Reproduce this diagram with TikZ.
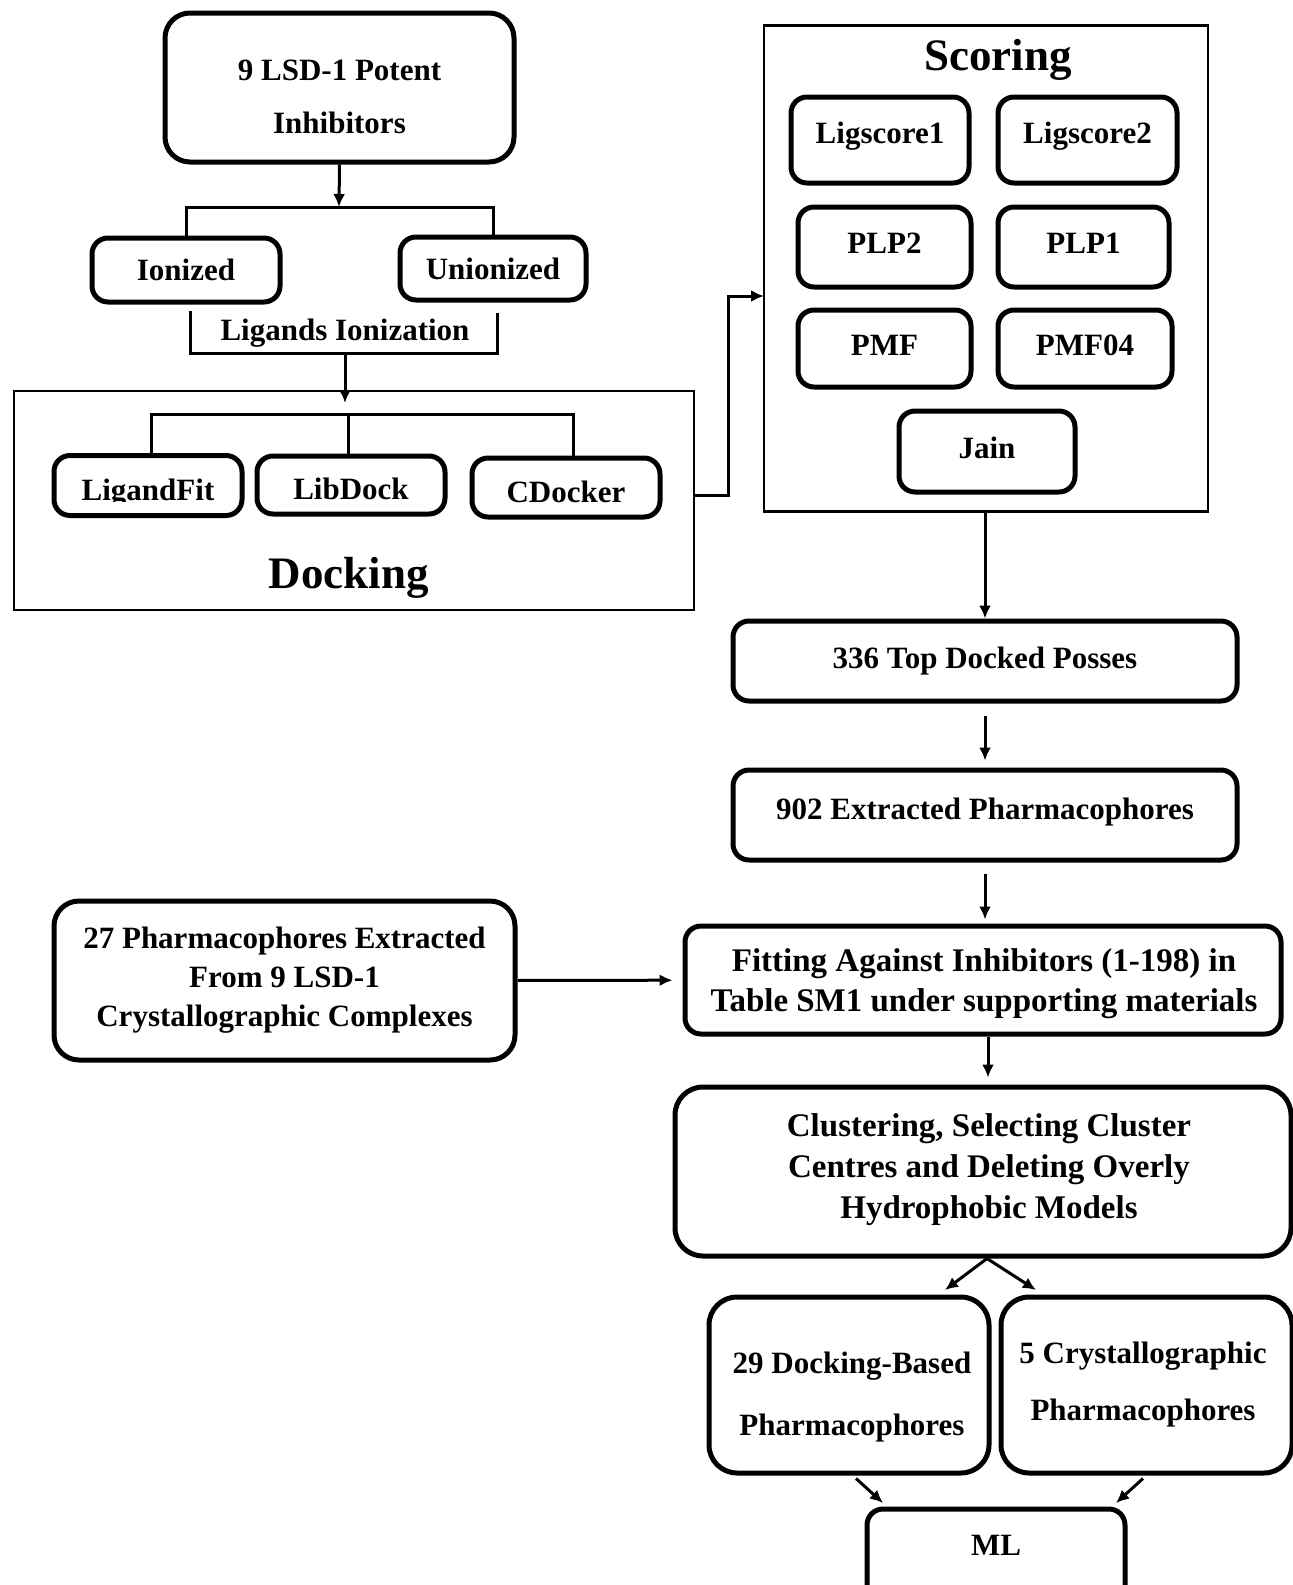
\documentclass[tikz,border=0pt]{standalone}
\usepackage{fontspec}
\setmainfont{Liberation Serif}
\usetikzlibrary{arrows.meta}

\tikzset{
  rbox/.style={draw, line width=5pt, rounded corners=16pt, inner sep=0pt,
    font=\fontsize{31}{37}\selectfont\bfseries, align=center},
  frame/.style={draw, line width=2.8pt, inner sep=0pt},
  lbl/.style={font=\fontsize{31}{37}\selectfont\bfseries, align=center, inner sep=0pt},
  biglbl/.style={lbl, font=\fontsize{33}{40}\selectfont\bfseries},
  ttl/.style={font=\fontsize{45}{54}\selectfont\bfseries, inner sep=0pt},
  conn/.style={line width=3pt},
  arr/.style={conn, ->, >={Latex[length=13pt,width=12pt]}},
}

\begin{document}
\begin{tikzpicture}[x=1pt,y=-1pt]
\useasboundingbox (0,0) rectangle (1293,1585);

% ligands and ionization
\node[rbox, rounded corners=25pt, minimum width=349pt, minimum height=149pt] (inh) at (339.5,87.5) {};
\node[lbl] (inhT) at (339.5,96.5) {9 LSD-1 Potent\\[16pt]Inhibitors};
\node[rbox, minimum width=188pt, minimum height=64pt] (ion) at (186,270) {Ionized};
\node[rbox, minimum width=186pt, minimum height=63pt] (union) at (493,268.5) {Unionized};
\coordinate (ionSplit) at (339,207);
\draw[arr] (inh.south) -- (ionSplit);
\draw[conn] (ion.north) |- (ionSplit) -| (union.north);
\coordinate (ligM) at (345,353);
\draw[conn] ([xshift=4pt,yshift=-6pt]ion.south) |- (ligM) -| ([xshift=4pt,yshift=-10pt]union.south);
\node[lbl] (ligT) at (345,333) {Ligands Ionization};

% docking
\node[frame, minimum width=680pt, minimum height=219pt] (dock) at (354,500.5) {};
\coordinate (dockIn) at (345,403);
\draw[arr] (ligM) -- (dockIn);
\node[rbox, minimum width=188pt, minimum height=60pt] (lfit) at (148,485.5) {};
\node[rbox, minimum width=188pt, minimum height=58pt] (ldock) at (351,485) {};
\node[rbox, minimum width=188pt, minimum height=59pt] (cdock) at (566,487.5) {};
\begin{scope}
  \clip (60,465) rectangle (236,501);
  \node[lbl] (lfitT) at (148,493) {LigandFit};
\end{scope}
\node[lbl] (ldockT) at (351,489) {LibDock};
\node[lbl] (cdockT) at (566,491.5) {CDocker};
\coordinate (dockSplit) at (348,414);
\draw[conn] ([xshift=3pt]lfit.north) |- (dockSplit) -| ([xshift=7pt]cdock.north);
\draw[conn] ([xshift=-3pt]ldock.north) -- (dockSplit);
\node[ttl] (dockT) at (349,578) {Docking};

% scoring
\node[frame, minimum width=444pt, minimum height=486pt] (score) at (986,268.5) {};
\node[ttl] (scoreT) at (998,60) {Scoring};
\coordinate (scIn) at (764,296);
\draw[arr] ([yshift=5pt]dock.east) -- ++(33,0) |- (scIn);
\node[rbox, minimum width=178pt, minimum height=86pt] (lig1) at (880,140) {};
\node[lbl] (lig1T) at (880,136) {Ligscore1};
\node[rbox, minimum width=179pt, minimum height=86pt] (lig2) at (1087.5,140) {};
\node[lbl] (lig2T) at (1087.5,136) {Ligscore2};
\node[rbox, minimum width=173pt, minimum height=80pt] (plp2) at (884.5,247) {};
\node[lbl] (plp2T) at (884.5,243) {PLP2};
\node[rbox, minimum width=171pt, minimum height=80pt] (plp1) at (1083.5,247) {};
\node[lbl] (plp1T) at (1083.5,243) {PLP1};
\node[rbox, minimum width=173pt, minimum height=77pt] (pmf) at (884.5,348.5) {};
\node[lbl] (pmfT) at (884.5,345.5) {PMF};
\node[rbox, minimum width=174pt, minimum height=77pt] (pmf4) at (1085,348.5) {};
\node[lbl] (pmf4T) at (1085,345.5) {PMF04};
\node[rbox, minimum width=176pt, minimum height=81pt] (jain) at (987,451.5) {};
\node[lbl] (jainT) at (987,447.5) {Jain};

% pharmacophore generation
\node[rbox, minimum width=504pt, minimum height=80pt] (top336) at (985,661) {336 Top Docked Posses};
\draw[arr] (score.south -| top336.north) -- (top336.north);
\node[rbox, minimum width=504pt, minimum height=90pt] (ph902) at (985,815) {};
\node[lbl] (ph902T) at (985,812) {902 Extracted Pharmacophores};
\draw[arr, shorten <=12pt, shorten >=7pt] (top336) -- (ph902);
\node[rbox, minimum width=596pt, minimum height=108pt] (fit) at (983,980) {};
\node[biglbl] (fitT) at (984,984) {Fitting Against Inhibitors (1-198) in\\Table SM1 under supporting materials};
\draw[arr, shorten <=11pt, shorten >=4pt] (ph902.south) -- (ph902.south |- fit.north);
\node[rbox, rounded corners=25pt, minimum width=461pt, minimum height=159pt] (cry27) at (284.5,980.5) {27 Pharmacophores Extracted\\[2pt]From 9 LSD-1\\[2pt]Crystallographic Complexes};
\draw[arr, shorten >=10pt] (cry27) -- (fit);
\node[rbox, rounded corners=28pt, minimum width=616pt, minimum height=169pt] (clus) at (983,1171.5) {};
\node[biglbl] (clusT) at (989,1170) {Clustering, Selecting Cluster\\[1pt]Centres and Deleting Overly\\[1pt]Hydrophobic Models};
\draw[arr, shorten >=7pt] ([xshift=5pt]fit.south) -- ([xshift=5pt]fit.south |- clus.north);

% selected models
\node[rbox, rounded corners=28pt, minimum width=280pt, minimum height=176pt] (dph29) at (849,1385) {};
\node[lbl] (dph29T) at (852,1397) {29 Docking-Based\\[25pt]Pharmacophores};
\node[rbox, rounded corners=28pt, minimum width=291pt, minimum height=176pt] (cph5) at (1146.5,1385) {};
\node[lbl] (cph5T) at (1143,1385) {5 Crystallographic\\[20pt]Pharmacophores};
\coordinate (toDph) at (945,1290);
\coordinate (toCph) at (1036,1290);
\draw[arr] ([xshift=4pt]clus.south) -- (toDph);
\draw[arr] ([xshift=4pt]clus.south) -- (toCph);
\node[rbox, minimum width=258pt, minimum height=100pt] (ml) at (996,1559) {};
\node[lbl] (mlT) at (996,1545) {ML};
\coordinate (mlL) at (883,1503);
\coordinate (mlR) at (1116,1503);
\draw[arr] ([xshift=7pt,yshift=-3pt]dph29.south) -- (mlL);
\draw[arr] ([xshift=-3.5pt,yshift=-3pt]cph5.south) -- (mlR);
\end{tikzpicture}
\end{document}
